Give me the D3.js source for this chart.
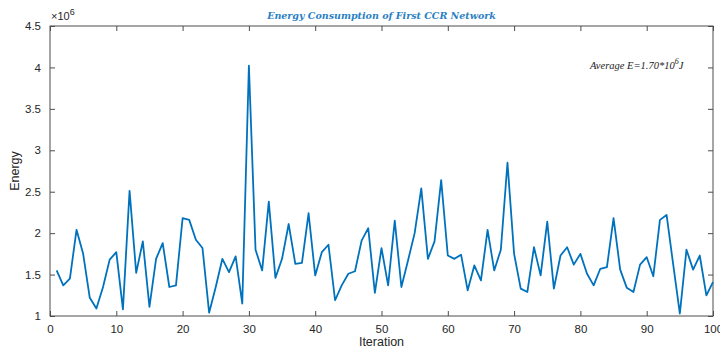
<!DOCTYPE html>
<html><head><meta charset="utf-8">
<script src="https://cdn.jsdelivr.net/npm/d3@7"></script>
<style>body{margin:0;background:#fff;} svg{display:block;}</style>
</head><body>
<svg id="c" width="720" height="351"></svg>
<script>
const iterations = d3.range(1, 101);
const energy = [1.55,1.37,1.45,2.04,1.75,1.22,1.09,1.35,1.68,1.77,
1.08,2.51,1.52,1.90,1.11,1.69,1.88,1.35,1.37,2.18,
2.16,1.92,1.82,1.04,1.35,1.69,1.53,1.72,1.15,4.02,
1.80,1.55,2.38,1.46,1.69,2.11,1.63,1.64,2.24,1.49,
1.77,1.86,1.19,1.37,1.51,1.54,1.91,2.06,1.28,1.82,
1.37,2.15,1.35,1.67,2.00,2.54,1.69,1.90,2.64,1.73,
1.69,1.74,1.31,1.61,1.43,2.04,1.55,1.80,2.85,1.75,
1.33,1.29,1.83,1.49,2.14,1.33,1.73,1.83,1.62,1.75,
1.51,1.37,1.57,1.59,2.18,1.56,1.34,1.29,1.62,1.71,
1.48,2.16,2.22,1.62,1.03,1.80,1.56,1.73,1.25,1.41];
const xTicks = [0,10,20,30,40,50,60,70,80,90,100];
const yTicks = [1,1.5,2,2.5,3,3.5,4,4.5];
const title = "Energy Consumption of First CCR Network";

const svg = d3.select("#c");
const L = 50, R = 713, T = 26, B = 316;
const x = d3.scaleLinear().domain([0,100]).range([L,R]);
const y = d3.scaleLinear().domain([1,4.5]).range([B,T]);
const axisCol = "#4d4d4d", textCol = "#262626";
const font = "'Liberation Sans', Arial, sans-serif";

// box
svg.append("rect").attr("x",L).attr("y",T).attr("width",R-L).attr("height",B-T)
  .attr("fill","none").attr("stroke",axisCol).attr("stroke-width",1);

function styleAxis(g){
  g.select(".domain").remove();
  g.selectAll(".tick line").attr("stroke",axisCol);
  g.selectAll(".tick text").attr("fill",textCol).attr("font-family",font).attr("font-size",11.5);
}
const xb = svg.append("g").attr("transform",`translate(0,${B})`)
  .call(d3.axisBottom(x).tickValues(xTicks).tickSizeInner(-5).tickSizeOuter(0).tickPadding(9).tickFormat(d3.format("d")));
styleAxis(xb);
const xt = svg.append("g").attr("transform",`translate(0,${T})`)
  .call(d3.axisTop(x).tickValues(xTicks).tickSizeInner(-5).tickSizeOuter(0).tickFormat(""));
styleAxis(xt);
const yl = svg.append("g").attr("transform",`translate(${L},0)`)
  .call(d3.axisLeft(y).tickValues(yTicks).tickSizeInner(-5).tickSizeOuter(0).tickPadding(9).tickFormat(d3.format("")));
styleAxis(yl);
const yr = svg.append("g").attr("transform",`translate(${R},0)`)
  .call(d3.axisRight(y).tickValues(yTicks).tickSizeInner(-5).tickSizeOuter(0).tickFormat(""));
styleAxis(yr);

// exponent
const ex = svg.append("text").attr("x",L+1).attr("y",T-6).attr("fill",textCol)
  .attr("font-family",font).attr("font-size",11);
ex.append("tspan").text("\u00d710");
ex.append("tspan").attr("dy",-5).attr("font-size",9).text("6");

// line
const line = d3.line().x((d,i)=>x(iterations[i])).y(d=>y(d));
svg.append("path").datum(energy).attr("d",line).attr("fill","none")
  .attr("stroke","#0072BD").attr("stroke-width",1.8).attr("stroke-linejoin","round");

// title
svg.append("text").attr("x",(L+R)/2).attr("y",19).attr("text-anchor","middle")
  .attr("fill","#2a7fc4").attr("font-family","'DejaVu Serif', serif").attr("font-style","italic")
  .attr("font-weight","bold").attr("font-size",9.5).text(title);

// annotation
const an = svg.append("text").attr("x",590).attr("y",69).attr("fill","#222")
  .attr("font-family","'Liberation Serif', serif").attr("font-style","italic").attr("font-size",10.5);
an.append("tspan").text("Average E=1.70*10");
an.append("tspan").attr("dy",-5).attr("font-size",8).text("6");
an.append("tspan").attr("dy",5).text("J");

// axis labels
svg.append("text").attr("x",(L+R)/2).attr("y",346).attr("text-anchor","middle")
  .attr("fill",textCol).attr("font-family",font).attr("font-size",12.5).text("Iteration");
svg.append("text").attr("transform",`translate(19,${(T+B)/2}) rotate(-90)`).attr("text-anchor","middle")
  .attr("fill",textCol).attr("font-family",font).attr("font-size",12.5).text("Energy");
</script>
</body></html>
